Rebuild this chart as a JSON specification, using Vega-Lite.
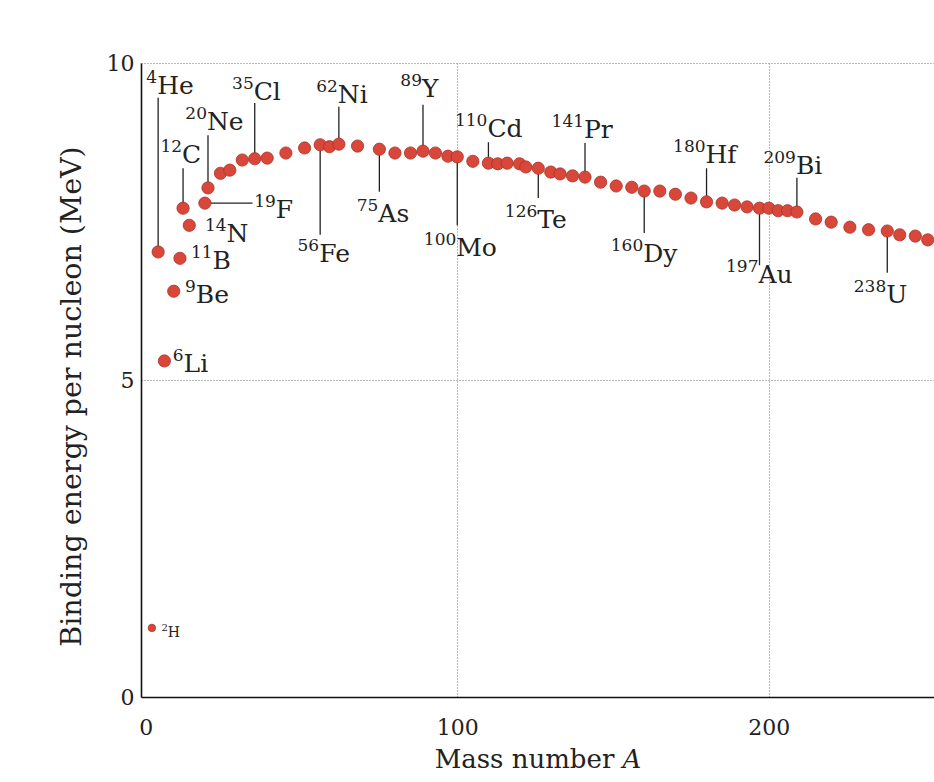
{
  "$schema": "https://vega.github.io/schema/vega-lite/v6.json",
  "width": 793,
  "height": 634,
  "autosize": "none",
  "padding": {"left": 141, "top": 63, "right": 0, "bottom": 85},
  "background": "white",
  "config": {"view": {"stroke": null}, "font": "DejaVu Serif"},
  "datasets": {
    "nuclides": [
      {"A": 2, "B": 1.09}, {"A": 4, "B": 7.02}, {"A": 6, "B": 5.30}, {"A": 9, "B": 6.40},
      {"A": 11, "B": 6.92}, {"A": 12, "B": 7.71}, {"A": 14, "B": 7.44}, {"A": 19, "B": 7.79},
      {"A": 20, "B": 8.03}, {"A": 24, "B": 8.26}, {"A": 27, "B": 8.31}, {"A": 31, "B": 8.47},
      {"A": 35, "B": 8.49}, {"A": 39, "B": 8.50}, {"A": 45, "B": 8.58}, {"A": 51, "B": 8.66},
      {"A": 56, "B": 8.71}, {"A": 59, "B": 8.68}, {"A": 62, "B": 8.72}, {"A": 68, "B": 8.69},
      {"A": 75, "B": 8.64}, {"A": 80, "B": 8.58}, {"A": 85, "B": 8.58}, {"A": 89, "B": 8.61},
      {"A": 93, "B": 8.58}, {"A": 97, "B": 8.53}, {"A": 100, "B": 8.52}, {"A": 105, "B": 8.45},
      {"A": 110, "B": 8.42}, {"A": 113, "B": 8.41}, {"A": 116, "B": 8.42}, {"A": 120, "B": 8.41},
      {"A": 122, "B": 8.36}, {"A": 126, "B": 8.34}, {"A": 130, "B": 8.28}, {"A": 133, "B": 8.25},
      {"A": 137, "B": 8.22}, {"A": 141, "B": 8.20}, {"A": 146, "B": 8.12}, {"A": 151, "B": 8.06},
      {"A": 156, "B": 8.04}, {"A": 160, "B": 7.98}, {"A": 165, "B": 7.98}, {"A": 170, "B": 7.93},
      {"A": 175, "B": 7.87}, {"A": 180, "B": 7.81}, {"A": 185, "B": 7.79}, {"A": 189, "B": 7.76},
      {"A": 193, "B": 7.73}, {"A": 197, "B": 7.71}, {"A": 200, "B": 7.71}, {"A": 203, "B": 7.67},
      {"A": 206, "B": 7.67}, {"A": 209, "B": 7.65}, {"A": 215, "B": 7.54}, {"A": 220, "B": 7.49},
      {"A": 226, "B": 7.41}, {"A": 232, "B": 7.37}, {"A": 238, "B": 7.35}, {"A": 242, "B": 7.29},
      {"A": 247, "B": 7.27}, {"A": 251, "B": 7.21}
    ],
    "labels": [
      {"mass": "2", "sym": "H", "A": 2, "B": 1.09, "textA": 7.1, "textB": 0.95},
      {"mass": "4", "sym": "He", "A": 4, "B": 7.02, "tipB": 9.45, "textA": 4, "textB": 9.51},
      {"mass": "6", "sym": "Li", "A": 6, "B": 5.30, "textA": 12.5, "textB": 5.13},
      {"mass": "9", "sym": "Be", "A": 9, "B": 6.40, "textA": 16.4, "textB": 6.21},
      {"mass": "11", "sym": "B", "A": 11, "B": 6.92, "textA": 21.8, "textB": 6.75},
      {"mass": "12", "sym": "C", "A": 12, "B": 7.71, "tipB": 8.34, "textA": 12, "textB": 8.42},
      {"mass": "14", "sym": "N", "A": 14, "B": 7.44, "textA": 26.3, "textB": 7.18},
      {"mass": "19", "sym": "F", "A": 19, "B": 7.79, "tipA": 34.3, "textA": 42.1, "textB": 7.56},
      {"mass": "20", "sym": "Ne", "A": 20, "B": 8.03, "tipB": 8.86, "textA": 20, "textB": 8.94},
      {"mass": "35", "sym": "Cl", "A": 35, "B": 8.49, "tipB": 9.37, "textA": 35, "textB": 9.42},
      {"mass": "56", "sym": "Fe", "A": 56, "B": 8.71, "tipB": 7.29, "textA": 56, "textB": 6.86},
      {"mass": "62", "sym": "Ni", "A": 62, "B": 8.72, "tipB": 9.31, "textA": 62, "textB": 9.37},
      {"mass": "75", "sym": "As", "A": 75, "B": 8.64, "tipB": 7.97, "textA": 75, "textB": 7.49},
      {"mass": "89", "sym": "Y", "A": 89, "B": 8.61, "tipB": 9.34, "textA": 89, "textB": 9.46},
      {"mass": "100", "sym": "Mo", "A": 100, "B": 8.52, "tipB": 7.44, "textA": 100, "textB": 6.96},
      {"mass": "110", "sym": "Cd", "A": 110, "B": 8.42, "tipB": 8.75, "textA": 110, "textB": 8.83},
      {"mass": "126", "sym": "Te", "A": 126, "B": 8.34, "tipB": 7.87, "textA": 126, "textB": 7.40},
      {"mass": "141", "sym": "Pr", "A": 141, "B": 8.20, "tipB": 8.74, "textA": 141, "textB": 8.82},
      {"mass": "160", "sym": "Dy", "A": 160, "B": 7.98, "tipB": 7.32, "textA": 160, "textB": 6.86},
      {"mass": "180", "sym": "Hf", "A": 180, "B": 7.81, "tipB": 8.34, "textA": 180, "textB": 8.42},
      {"mass": "197", "sym": "Au", "A": 197, "B": 7.71, "tipB": 6.81, "textA": 197, "textB": 6.53},
      {"mass": "209", "sym": "Bi", "A": 209, "B": 7.65, "tipB": 8.19, "textA": 209, "textB": 8.25},
      {"mass": "238", "sym": "U", "A": 238, "B": 7.35, "tipB": 6.69, "textA": 238, "textB": 6.21}
    ]
  },
  "layer": [
    {
      "data": {"name": "nuclides"},
      "mark": {"type": "point", "opacity": 0},
      "encoding": {
        "x": {
          "field": "A", "type": "quantitative",
          "scale": {"domain": [-1.5, 253], "nice": false, "zero": false},
          "axis": {
            "values": [0, 100, 200], "format": "d", "title": "Mass number 𝐴",
            "grid": true, "gridColor": "#777", "gridDash": [1, 2], "gridWidth": 1,
            "gridOpacity": {"condition": {"test": "datum.value === 0", "value": 0}, "value": 1},
            "ticks": false, "domainColor": "#111", "domainWidth": 1.6,
            "labelFont": "DejaVu Serif", "labelFontSize": 22, "labelColor": "#222", "labelPadding": 20,
            "titleFont": "DejaVu Serif", "titleFontSize": 26, "titleFontWeight": "normal",
            "titleColor": "#222", "titlePadding": 8
          }
        },
        "y": {
          "field": "B", "type": "quantitative",
          "scale": {"domain": [0, 10], "nice": false},
          "axis": {
            "values": [0, 5, 10], "format": "d", "title": "Binding energy per nucleon (MeV)",
            "grid": true, "gridColor": "#777", "gridDash": [1, 2], "gridWidth": 1,
            "gridOpacity": {"condition": {"test": "datum.value === 0", "value": 0}, "value": 1},
            "ticks": false, "domainColor": "#111", "domainWidth": 1.6,
            "labelFont": "DejaVu Serif", "labelFontSize": 22, "labelColor": "#222", "labelPadding": 7,
            "titleFont": "DejaVu Serif", "titleFontSize": 28.5, "titleFontWeight": "normal",
            "titleColor": "#222", "titleX": -70, "titleY": 333, "titleAngle": -90,
            "titleAlign": "center", "titleBaseline": "middle"
          }
        }
      }
    },
    {
      "data": {"name": "labels"},
      "transform": [{"filter": "isValid(datum.tipB)"}],
      "mark": {"type": "rule", "color": "#222", "strokeWidth": 1.3},
      "encoding": {
        "x": {"field": "A", "type": "quantitative"},
        "y": {"field": "B", "type": "quantitative"},
        "y2": {"field": "tipB"}
      }
    },
    {
      "data": {"name": "labels"},
      "transform": [{"filter": "isValid(datum.tipA)"}],
      "mark": {"type": "rule", "color": "#222", "strokeWidth": 1.3},
      "encoding": {
        "x": {"field": "A", "type": "quantitative"},
        "x2": {"field": "tipA"},
        "y": {"field": "B", "type": "quantitative"}
      }
    },
    {
      "data": {"name": "nuclides"},
      "mark": {"type": "circle", "color": "#d8473a", "stroke": "#a83228", "strokeWidth": 0.8, "opacity": 1},
      "encoding": {
        "x": {"field": "A", "type": "quantitative"},
        "y": {"field": "B", "type": "quantitative"},
        "size": {"condition": {"test": "datum.A === 2", "value": 55}, "value": 150}
      }
    },
    {
      "data": {"name": "labels"},
      "transform": [{"filter": "datum.sym !== 'H'"}],
      "mark": {"type": "text", "align": "right", "baseline": "alphabetic", "dx": -1, "dy": -11, "fontSize": 17, "font": "DejaVu Serif", "color": "#222"},
      "encoding": {
        "x": {"field": "textA", "type": "quantitative"},
        "y": {"field": "textB", "type": "quantitative"},
        "text": {"field": "mass"}
      }
    },
    {
      "data": {"name": "labels"},
      "transform": [{"filter": "datum.sym !== 'H'"}],
      "mark": {"type": "text", "align": "left", "baseline": "alphabetic", "dx": -1, "fontSize": 25, "font": "DejaVu Serif", "color": "#222"},
      "encoding": {
        "x": {"field": "textA", "type": "quantitative"},
        "y": {"field": "textB", "type": "quantitative"},
        "text": {"field": "sym"}
      }
    },
    {
      "data": {"name": "labels"},
      "transform": [{"filter": "datum.sym === 'H'"}],
      "mark": {"type": "text", "align": "right", "baseline": "alphabetic", "dy": -6, "fontSize": 10, "font": "DejaVu Serif", "color": "#222"},
      "encoding": {
        "x": {"field": "textA", "type": "quantitative"},
        "y": {"field": "textB", "type": "quantitative"},
        "text": {"field": "mass"}
      }
    },
    {
      "data": {"name": "labels"},
      "transform": [{"filter": "datum.sym === 'H'"}],
      "mark": {"type": "text", "align": "left", "baseline": "alphabetic", "fontSize": 14, "font": "DejaVu Serif", "color": "#222"},
      "encoding": {
        "x": {"field": "textA", "type": "quantitative"},
        "y": {"field": "textB", "type": "quantitative"},
        "text": {"field": "sym"}
      }
    }
  ]
}
